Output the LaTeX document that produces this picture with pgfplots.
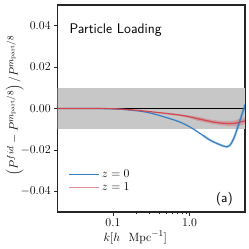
\documentclass[border=0pt]{standalone}
\usepackage{pgfplots}
\pgfplotsset{compat=1.18}
\definecolor{cblue}{RGB}{52,126,196}
\definecolor{cred}{RGB}{210,70,78}
\definecolor{lred}{RGB}{228,140,145}
\begin{document}
\begin{tikzpicture}
\useasboundingbox (-57.7bp,-37bp) rectangle (191.3bp,212bp);
\begin{axis}[
  at={(0,0)}, anchor=south west, scale only axis,
  width=187.3bp, height=207bp,
  xmode=log, xmin=0.019, xmax=5.3, ymin=-0.05, ymax=0.05,
  xtick={0.1,1}, xticklabels={$0.1$,$1.0$},
  ytick={-0.04,-0.02,0,0.02,0.04},
  scaled y ticks=false,
  yticklabel style={/pgf/number format/fixed, /pgf/number format/fixed zerofill, /pgf/number format/precision=2},
  tick label style={font=\fontsize{11.5}{13}\selectfont},
  label style={font=\fontsize{13}{15}\selectfont},
  tick align=outside, major tick length=3.5bp, minor tick length=2bp,
  xtick pos=left, ytick pos=left,
  axis line style={line width=1.2bp, black!85},
  every tick/.style={black!85, line width=0.6bp},
  xlabel={$k[h\ \ \mathrm{Mpc}^{-1}]$},
  xlabel style={xshift=-16bp, yshift=3bp},
  ylabel={$\left(P^{fid}-P^{m_{\rm part}/8}\right)/P^{m_{\rm part}/8}$},
  ylabel style={yshift=-10bp, xshift=3bp},
  legend style={at={(0.04,0.075)}, anchor=south west, draw=none, fill=none,
    font=\fontsize{11.5}{13}\selectfont},
  legend cell align=left,
  clip=true,
]
\addplot[draw=none, fill=black!22, forget plot] coordinates {(0.01,-0.01) (10,-0.01) (10,0.01) (0.01,0.01)} -- cycle;
\addplot[black, line width=0.9bp, forget plot] coordinates {(0.01,0) (10,0)};
% red error band
\addplot[draw=none, fill=cred, fill opacity=0.3, forget plot] coordinates {
(0.5,-0.0021) (0.757,-0.0028) (1.0,-0.0034) (1.3,-0.0040) (1.5,-0.0045) (1.8,-0.0052) (2.0,-0.0055) (2.3,-0.0058) (2.5,-0.0059) (2.8,-0.0060) (3.0,-0.0061) (3.3,-0.0060) (3.5,-0.0060) (3.8,-0.0058) (4.0,-0.0057) (4.3,-0.0052) (4.6,-0.0048) (5.0,-0.0046) (5.3,-0.0045)
(5.3,-0.0075) (5.0,-0.0078) (4.6,-0.0082) (4.3,-0.0084) (4.0,-0.0085) (3.8,-0.0086) (3.5,-0.0085) (3.3,-0.0086) (3.0,-0.0084) (2.8,-0.0083) (2.5,-0.0081) (2.3,-0.0078) (2.0,-0.0075) (1.8,-0.0071) (1.5,-0.0065) (1.3,-0.0060) (1.0,-0.0046) (0.757,-0.0036) (0.5,-0.0027)
} -- cycle;
% blue halo
\addplot[cblue, opacity=0.3, line width=2.6bp, forget plot, smooth] coordinates {
(1.5,-0.0130) (1.8,-0.0150) (2.16,-0.0165) (2.5,-0.0175) (2.8,-0.0182) (3.07,-0.0185) (3.4,-0.0176) (3.7,-0.0152) (3.94,-0.0128) (4.2,-0.0098) (4.58,-0.0056) (4.9,-0.0022) (5.2,0.0005) (5.35,0.0020)
};
\addplot[cblue, line width=1.2bp, smooth, forget plot] coordinates {
(0.019,0) (0.03,0) (0.05,0) (0.07,-0.00005) (0.1,-0.0002) (0.13,-0.0004) (0.17,-0.0008) (0.227,-0.0013) (0.3,-0.0021) (0.4,-0.0033) (0.5,-0.0044) (0.6,-0.0053) (0.757,-0.0066) (1.0,-0.0088) (1.13,-0.0100) (1.5,-0.0130) (1.8,-0.0150) (2.16,-0.0165) (2.5,-0.0175) (2.8,-0.0182) (3.07,-0.0185) (3.4,-0.0176) (3.7,-0.0152) (3.94,-0.0128) (4.2,-0.0098) (4.58,-0.0056) (4.9,-0.0022) (5.2,0.0005) (5.35,0.0020)
};
\addplot[cred, line width=1.2bp, smooth, forget plot] coordinates {
(0.019,0) (0.03,0) (0.05,0) (0.07,-0.00003) (0.1,-0.0001) (0.15,-0.0005) (0.227,-0.0010) (0.3,-0.0015) (0.4,-0.0020) (0.5,-0.0024) (0.757,-0.0032) (1.0,-0.0040) (1.3,-0.0050) (1.5,-0.0055) (1.8,-0.0061) (2.0,-0.0065) (2.5,-0.0070) (3.0,-0.0072) (3.5,-0.0072) (4.0,-0.0071) (4.5,-0.0066) (5.0,-0.0062) (5.3,-0.0060)
};
\addlegendimage{legend image code/.code={\draw[color=cblue, line width=1.6bp] (0bp,0bp) -- (30bp,0bp);}}
\addlegendentry{$z=0$}
\addlegendimage{legend image code/.code={\draw[color=lred, line width=1.6bp] (0bp,0bp) -- (30bp,0bp);}}
\addlegendentry{$z=1$}
\node[font=\sffamily\fontsize{14}{16}\selectfont, anchor=west] at (rel axis cs:0.045,0.88) {Particle Loading};
\node[font=\sffamily\fontsize{13.5}{15}\selectfont] at (rel axis cs:0.89,0.06) {(a)};
\end{axis}
\end{tikzpicture}
\end{document}
